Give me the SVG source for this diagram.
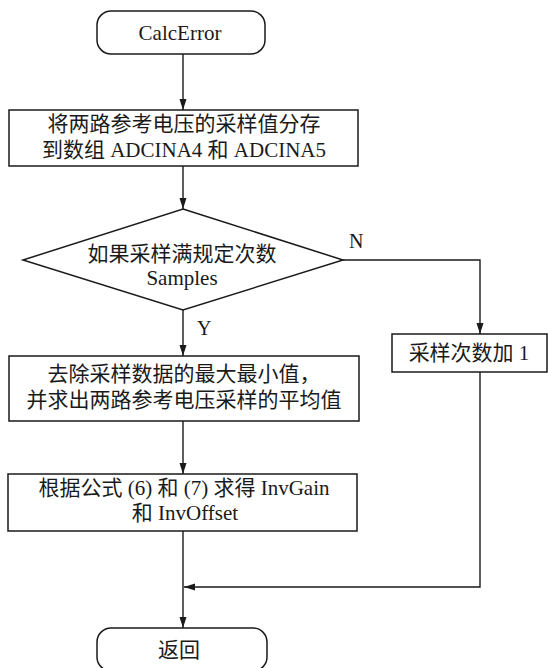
<svg xmlns="http://www.w3.org/2000/svg" width="548" height="668" viewBox="0 0 548 668">
<style>
.s{fill:#fff;stroke:#1a1a1a;stroke-width:1.5}
.c{fill:none;stroke:#1a1a1a;stroke-width:1.4}
text{font-family:"Liberation Serif","Noto Sans CJK SC",serif;font-size:21px;fill:#1a1a1a;text-anchor:middle}
.l{font-size:20px;text-anchor:start}
</style>
<defs>
<marker id="a" markerUnits="userSpaceOnUse" markerWidth="11" markerHeight="8" refX="11" refY="3.5" orient="auto">
<path d="M0,0 L11,3.5 L0,7 z" fill="#1a1a1a"/>
</marker>
</defs>
<rect width="548" height="668" fill="#fff"/>
<g id="connectors">
<line class="c" x1="183" y1="54" x2="183" y2="110" marker-end="url(#a)"/>
<line class="c" x1="183" y1="166" x2="183" y2="209" marker-end="url(#a)"/>
<line class="c" x1="183" y1="310" x2="183" y2="356" marker-end="url(#a)"/>
<polyline class="c" points="343,260 480,260 480,334" marker-end="url(#a)"/>
<line class="c" x1="183" y1="421" x2="183" y2="474" marker-end="url(#a)"/>
<line class="c" x1="183" y1="531" x2="183" y2="628" marker-end="url(#a)"/>
<polyline class="c" points="480,372 480,587 184,587" marker-end="url(#a)"/>
<text class="l" x="349" y="248">N</text>
<text class="l" x="197" y="335">Y</text>
</g>
<g id="start">
<rect class="s" x="97" y="11" width="168" height="43" rx="14"/>
<text x="180" y="40">CalcError</text>
</g>
<g id="store">
<rect class="s" x="9" y="110" width="349" height="56"/>
<text x="184" y="131">将两路参考电压的采样值分存</text>
<text x="184" y="157">到数组 ADCINA4 和 ADCINA5</text>
</g>
<g id="decision">
<polygon class="s" points="183,209 343,260 183,310 23,260"/>
<text x="182" y="261">如果采样满规定次数</text>
<text x="182" y="285">Samples</text>
</g>
<g id="increment">
<rect class="s" x="392" y="334" width="155" height="38"/>
<text x="469" y="360">采样次数加 1</text>
</g>
<g id="average">
<rect class="s" x="9" y="356" width="350" height="65"/>
<text x="184" y="381">去除采样数据的最大最小值，</text>
<text x="184" y="407">并求出两路参考电压采样的平均值</text>
</g>
<g id="compute">
<rect class="s" x="8" y="474" width="349" height="57"/>
<text x="184" y="495">根据公式 (6) 和 (7) 求得 InvGain</text>
<text x="185" y="520">和 InvOffset</text>
</g>
<g id="return">
<rect class="s" x="97" y="628" width="170" height="43" rx="14"/>
<text x="179" y="657">返回</text>
</g>
</svg>
